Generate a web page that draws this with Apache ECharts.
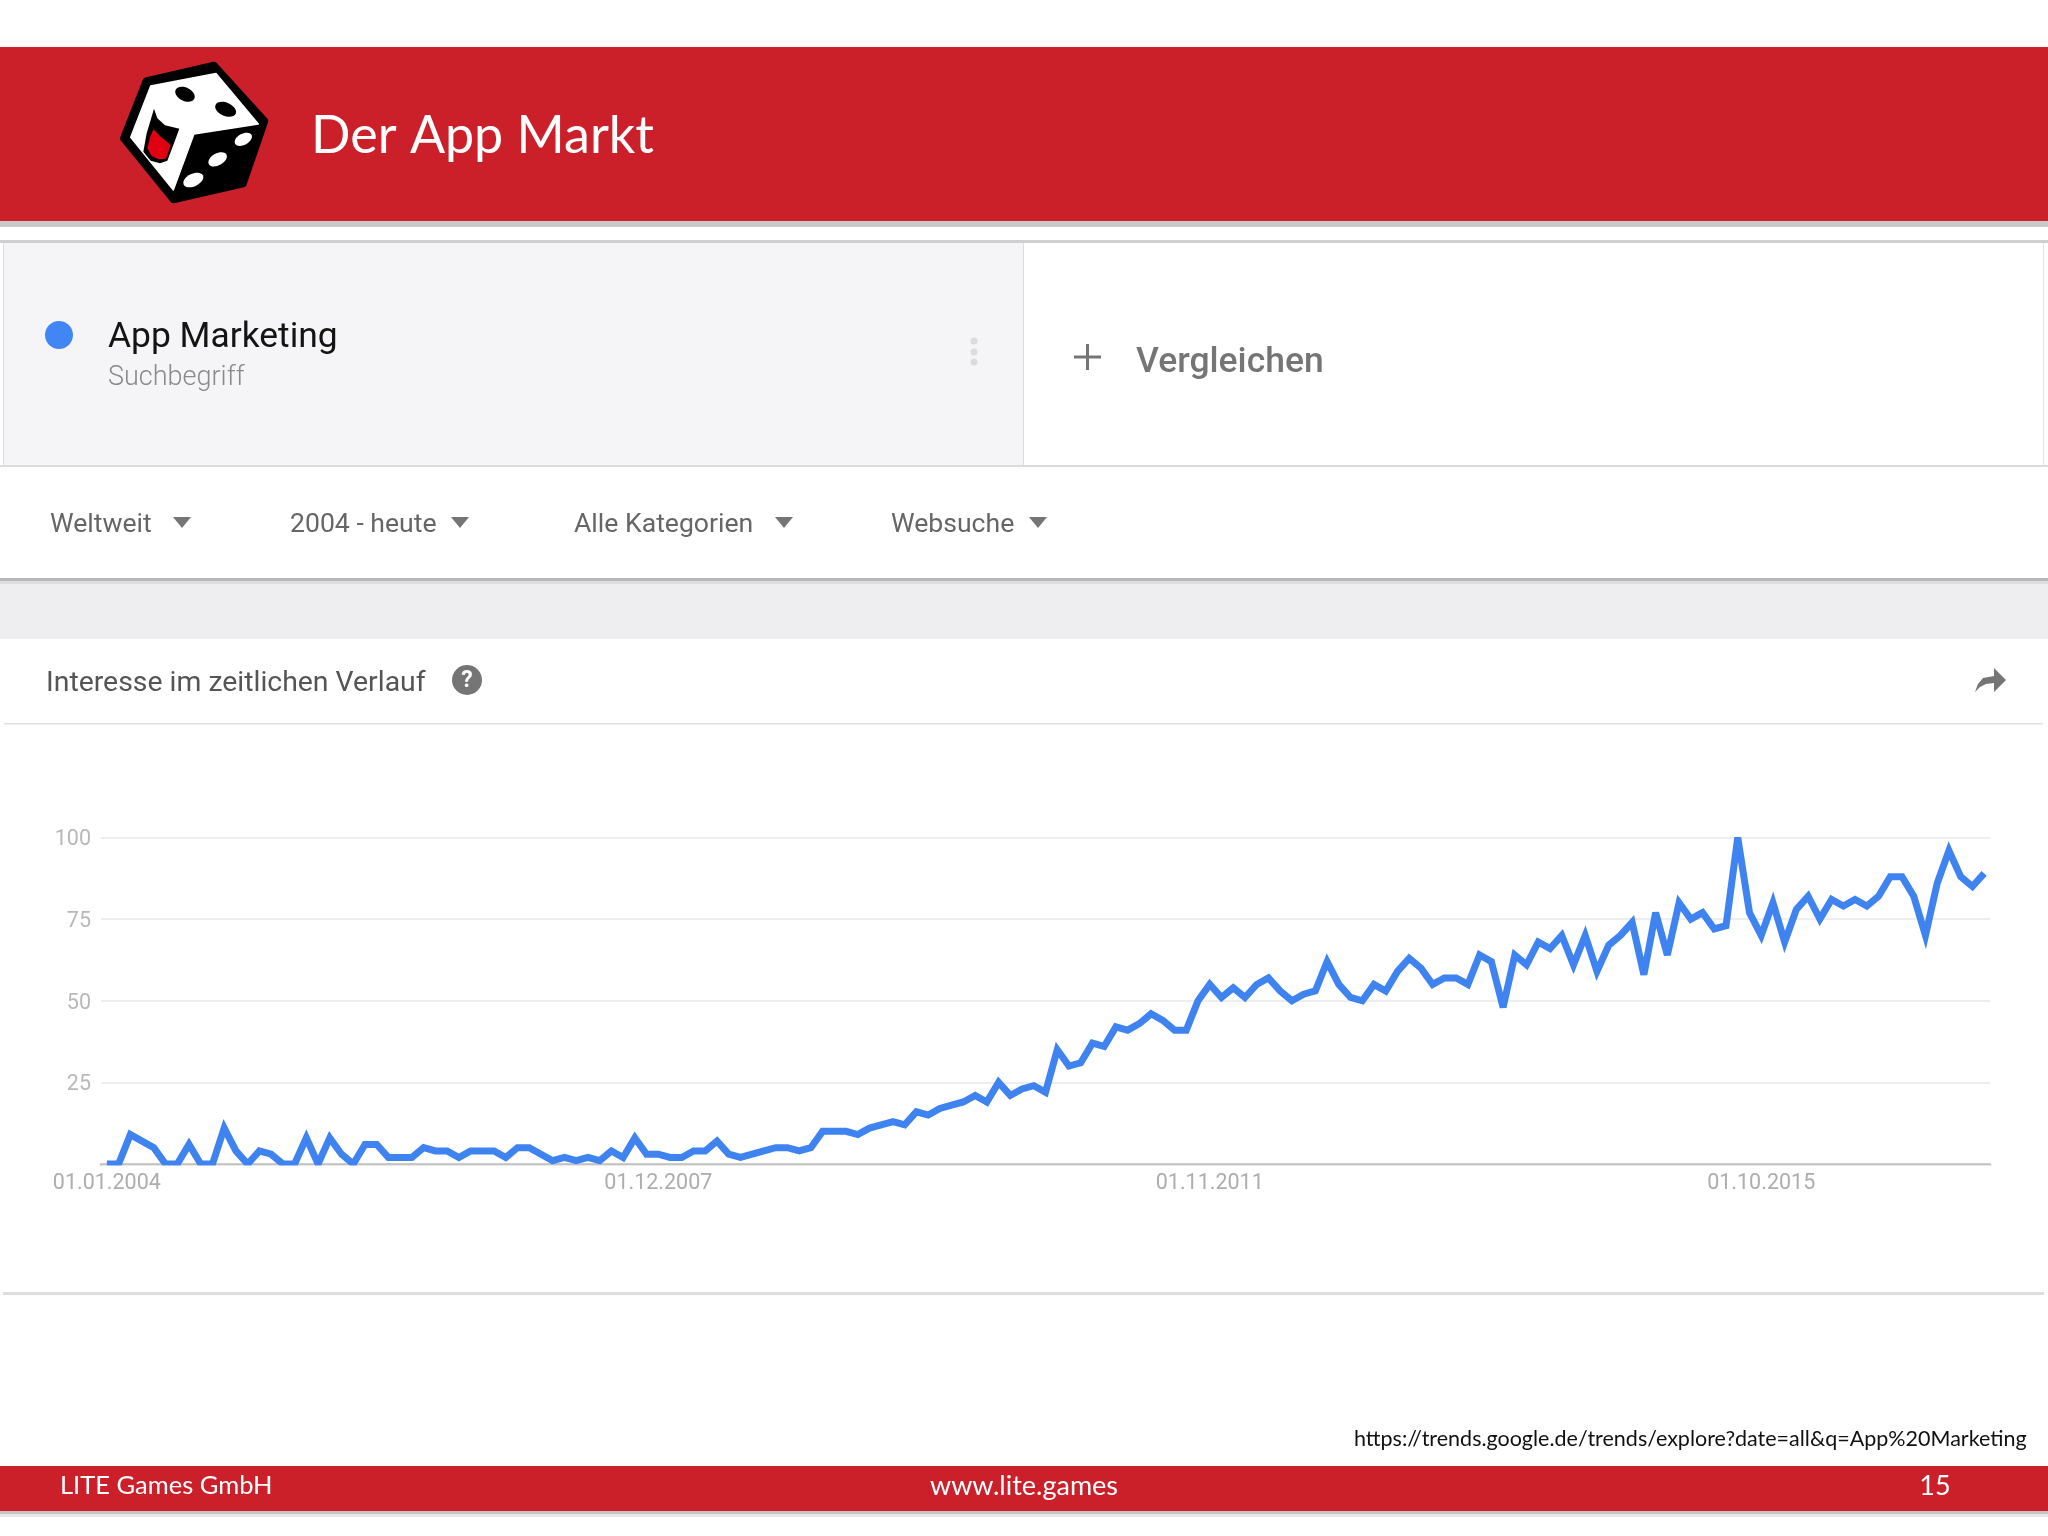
<!DOCTYPE html>
<html>
<head>
<meta charset="utf-8">
<title>Der App Markt</title>
<style>
html, body { margin: 0; padding: 0; background: #fff; }
#chart { width: 2048px; height: 1536px; }
</style>
<script src="https://cdn.jsdelivr.net/npm/echarts@6/dist/echarts.min.js"></script>
</head>
<body>
<div id="chart"></div>
<script>
// monthly values from 01.01.2004
var interest = [
    0,0,9,7,5,0,0,6,0,0,
    11,4,0,4,3,0,0,8,0,8,
    3,0,6,6,2,2,2,5,4,4,
    2,4,4,4,2,5,5,3,1,2,
    1,2,1,4,2,8,3,3,2,2,
    4,4,7,3,2,3,4,5,5,4,
    5,10,10,10,9,11,12,13,12,16,
    15,17,18,19,21,19,25,21,23,24,
    22,35,30,31,37,36,42,41,43,46,
    44,41,41,50,55,51,54,51,55,57,
    53,50,52,53,62,55,51,50,55,53,
    59,63,60,55,57,57,55,64,62,48,
    64,61,68,66,70,61,70,59,67,70,
    74,58,77,64,80,75,77,72,73,100,
    77,70,80,68,78,82,75,81,79,81,
    79,82,88,88,82,70,86,96,88,85,
    89
];
var tickMonths = [0, 47, 94, 141];
var tickDates = ['01.01.2004', '01.12.2007', '01.11.2011', '01.10.2015'];
var filters = ['Weltweit', '2004 - heute', 'Alle Kategorien', 'Websuche'];

var RED = '#cb202a';
var ROBOTO = 'Roboto';
var SLIDE = 'Lato';

function box(x, y, w, h, fill) {
    return { type: 'rect', z: -2, silent: true, shape: { x: x, y: y, width: w, height: h }, style: { fill: fill } };
}
function label(text, x, y, size, color, font, extra) {
    return {
        type: 'text', z: 10, silent: true, x: x, y: y,
        style: Object.assign({
            text: text, fill: color, fontSize: size, fontFamily: font,
            verticalAlign: 'middle', align: 'left'
        }, extra || {})
    };
}
function triangle(cx, cy) {
    return {
        type: 'polygon', z: 10, silent: true,
        shape: { points: [[cx - 9, cy - 5], [cx + 9, cy - 5], [cx, cy + 6]] },
        style: { fill: '#757575' }
    };
}
function pip(x, y, rx, ry, rot, fill) {
    return {
        type: 'ellipse', x: x, y: y, rotation: rot,
        shape: { cx: 0, cy: 0, rx: rx, ry: ry }, style: { fill: fill }
    };
}

// dice logo, drawn at 3x and scaled down
var dice = {
    type: 'group', x: 110, y: 50, scaleX: 1 / 3, scaleY: 1 / 3, silent: true,
    children: [
        { type: 'polygon', shape: { points: [[108, 92], [312, 45], [465, 213], [400, 402], [190, 450], [40, 265]] },
          style: { fill: '#000', stroke: '#000', lineWidth: 20, lineJoin: 'round' } },
        { type: 'polygon', shape: { points: [[122, 108], [318, 70], [445, 222], [252, 252], [190, 420], [62, 262]] },
          style: { fill: '#fff', stroke: '#fff', lineWidth: 4, lineJoin: 'round' } },
        pip(225, 133, 31, 20, -0.45, '#000'),
        pip(347, 178, 33, 20, -0.4, '#000'),
        pip(400, 268, 28, 17, 0.5, '#fff'),
        pip(323, 328, 30, 18, 0.5, '#fff'),
        pip(250, 390, 32, 19, 0.45, '#fff'),
        { type: 'polygon', shape: { points: [[132, 176], [142, 205], [165, 226], [208, 236], [190, 285], [172, 332], [150, 340], [122, 332], [100, 305], [110, 250], [122, 210]] },
          style: { fill: '#000' } },
        { type: 'polygon', shape: { points: [[130, 238], [150, 258], [182, 285], [168, 326], [145, 328], [125, 318], [112, 295], [120, 262]] },
          style: { fill: '#e00012' } }
    ]
};

var graphics = [
    // slide header
    box(0, 221, 2048, 6, '#c9c9c9'),
    box(0, 47, 2048, 174, RED),
    // search term panel
    box(0, 240, 2048, 3, '#cfcfd1'),
    box(4, 243, 1019, 222, '#f5f4f6'),
    box(3, 243, 1, 222, '#dcdcde'),
    box(1023, 243, 1, 222, '#dcdcde'),
    box(2043, 243, 1, 222, '#e4e4e6'),
    box(0, 465, 2048, 2, '#dcdcde'),
    // grey band and card
    box(0, 579, 2048, 60, '#eeedf0'),
    box(0, 578, 2048, 3, '#b8b8ba'),
    box(0, 581, 2048, 3, '#dddcdf'),
    box(4, 639, 2039, 653, '#ffffff'),
    box(3, 1292, 2041, 3, '#dededf'),
    box(4, 723, 2039, 1.5, '#e0e0e2'),
    // footer
    box(0, 1510, 2048, 4, '#c4c4c4'),
    box(0, 1514, 2048, 3, '#e6e6e6'),
    box(0, 1466, 2048, 45, RED),
    dice,
    label('Der App Markt', 311, 136, 52, '#fff', SLIDE),
    { type: 'ellipse', z: 10, silent: true, shape: { cx: 59, cy: 335, rx: 14, ry: 14 }, style: { fill: '#4285f4' } },
    label('App Marketing', 108, 338, 35.4, '#141414', ROBOTO),
    label('Suchbegriff', 108, 378, 27, '#8a8a8a', ROBOTO, { fontWeight: 300 }),
    { type: 'circle', z: 10, silent: true, shape: { cx: 974, cy: 341, r: 3.5 }, style: { fill: '#dcdcde' } },
    { type: 'circle', z: 10, silent: true, shape: { cx: 974, cy: 352, r: 3.5 }, style: { fill: '#dcdcde' } },
    { type: 'circle', z: 10, silent: true, shape: { cx: 974, cy: 362, r: 3.5 }, style: { fill: '#dcdcde' } },
    box(1074, 355.5, 27, 3, '#757575'),
    box(1086, 344, 3, 26, '#757575'),
    label('Vergleichen', 1136, 363, 35.5, '#757575', ROBOTO, { fontWeight: 500 }),
    label(filters[0], 50, 525, 26.6, '#666', ROBOTO),
    triangle(182, 522),
    label(filters[1], 290, 525, 26.6, '#666', ROBOTO),
    triangle(460, 522),
    label(filters[2], 574, 525, 26.6, '#666', ROBOTO),
    triangle(784, 522),
    label(filters[3], 891, 525, 26.6, '#666', ROBOTO),
    triangle(1038, 522),
    label('Interesse im zeitlichen Verlauf', 46, 683.5, 28.4, '#555', ROBOTO),
    { type: 'circle', z: 10, silent: true, shape: { cx: 467, cy: 680, r: 15 }, style: { fill: '#757575' } },
    label('?', 467, 681, 23, '#fff', ROBOTO, { align: 'center', fontWeight: 700 }),
    { type: 'polygon', z: 10, silent: true,
      shape: { points: [[2006, 680], [1994, 668], [1994, 676], [1983, 678], [1978, 684], [1975, 692], [1980, 687], [1986, 684], [1994, 683], [1994, 692]] },
      style: { fill: '#757575' } },
    label('https://trends.google.de/trends/explore?date=all&q=App%20Marketing', 1354, 1439, 21.5, '#111', SLIDE),
    label('LITE Games GmbH', 60, 1486, 25.5, '#fff', SLIDE),
    label('www.lite.games', 1024, 1486, 27, '#fff', SLIDE, { align: 'center' }),
    label('15', 1935, 1486, 27, '#fff', SLIDE, { align: 'center' }),
    // the line is clipped at the plot edges
    { type: 'rect', z: 5, silent: true, shape: { x: 101, y: 829, width: 1889, height: 7.5 }, style: { fill: '#fff' } },
    { type: 'rect', z: 5, silent: true, shape: { x: 101, y: 1165.5, width: 1889, height: 4.5 }, style: { fill: '#fff' } }
];

var points = interest.map(function (v, i) { return [i, v]; });

var myChart = echarts.init(document.getElementById('chart'));
var option = {
    animation: false,
    backgroundColor: '#ffffff',
    grid: { left: 101, right: 58, top: 837.5, bottom: 372, containLabel: false },
    xAxis: {
        type: 'value',
        min: -0.5,
        max: 160.5,
        splitLine: { show: false },
        axisTick: { show: false },
        axisLine: { show: true, lineStyle: { color: '#c2c2c2', width: 2.5 } },
        axisLabel: {
            customValues: tickMonths,
            margin: 9,
            fontSize: 21.5,
            fontFamily: ROBOTO,
            color: '#adadad',
            formatter: function (v) { return tickDates[tickMonths.indexOf(v)]; }
        }
    },
    yAxis: {
        type: 'value',
        min: 0,
        max: 100,
        interval: 25,
        axisLine: { show: false },
        axisTick: { show: false },
        splitLine: { lineStyle: { color: '#e8e8ea', width: 1.5 } },
        axisLabel: {
            margin: 10,
            formatter: function (v) { return v === 0 ? '' : '{n|' + v + '}'; },
            rich: {
                n: { fontSize: 21.5, fontFamily: ROBOTO, color: '#b8b8b8', padding: [5, 0, 0, 0] }
            }
        }
    },
    series: [{
        name: 'App Marketing',
        type: 'line',
        data: points,
        showSymbol: false,
        lineStyle: { color: '#3f83f0', width: 7, join: 'miter', miterLimit: 4 }
    }],
    graphic: { elements: graphics }
};
myChart.setOption(option);
</script>
</body>
</html>
